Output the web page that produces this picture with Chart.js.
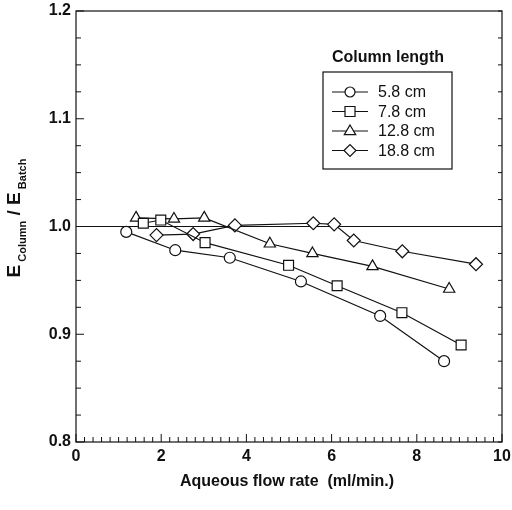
<!DOCTYPE html>
<html>
<head>
<meta charset="utf-8">
<script src="https://cdn.jsdelivr.net/npm/chart.js@4.4.1/dist/chart.umd.min.js"></script>
<style>
  html, body { margin: 0; padding: 0; background: #fff; }
  #wrap { width: 512px; height: 510px; }
</style>
</head>
<body>
<div id="wrap"><canvas id="effChart" width="512" height="510"></canvas></div>
<script>
/*
 * Column / batch extraction ratio against aqueous flow rate
 */
const seriesLabels = ["5.8 cm", "7.8 cm", "12.8 cm", "18.8 cm"];
const seriesStyles = ["circle", "rect", "triangle", "rectRot"];

const flow58 = [1.18, 2.33, 3.61, 5.28, 7.14, 8.64];
const ratio58 = [0.995, 0.978, 0.971, 0.949, 0.917, 0.875];

const flow78 = [1.58, 1.99, 3.03, 4.99, 6.13, 7.65, 9.04];
const ratio78 = [1.003, 1.006, 0.985, 0.964, 0.945, 0.920, 0.890];

const flow128 = [1.41, 2.30, 3.01, 4.55, 5.55, 6.96, 8.76];
const ratio128 = [1.008, 1.007, 1.008, 0.984, 0.975, 0.963, 0.942];

const flow188 = [1.89, 2.75, 3.73, 5.57, 6.06, 6.52, 7.66, 9.39];
const ratio188 = [0.992, 0.993, 1.001, 1.003, 1.002, 0.987, 0.977, 0.965];

// the horizontal line at ratio = 1
const refLineX = [0, 10];
const refLineY = [1.0, 1.0];

const xTicks = [0, 2, 4, 6, 8, 10];
const yTicks = [0.8, 0.9, 1.0, 1.1, 1.2];

const FONT = "'Liberation Sans', Arial, Helvetica, sans-serif";

function toPoints(xs, ys) {
    let pts = [];
    for (let i = 0; i < xs.length; i++) {
        pts.push({x: xs[i], y: ys[i]});
    }
    return pts;
}

function makeSeries(label, xs, ys, style, radius) {
    return {
        label: label,
        data: toPoints(xs, ys),
        borderColor: '#111',
        borderWidth: 1.2,
        pointStyle: style,
        pointRadius: radius,
        pointHoverRadius: radius,
        pointBackgroundColor: '#fff',
        pointBorderColor: '#111',
        pointBorderWidth: 1.2,
        tension: 0,
        fill: false,
        order: 1
    };
}

// draws one open marker, used for the legend
function drawMarker(ctx, style, x, y, r) {
    ctx.beginPath();
    if (style == 'circle') {
        ctx.arc(x, y, r, 0, Math.PI * 2);
    } else if (style == 'rect') {
        ctx.rect(x - r, y - r, 2 * r, 2 * r);
    } else if (style == 'triangle') {
        ctx.moveTo(x, y - r);
        ctx.lineTo(x + r * 0.95, y + r * 0.6);
        ctx.lineTo(x - r * 0.95, y + r * 0.6);
        ctx.closePath();
    } else {
        ctx.moveTo(x - r, y);
        ctx.lineTo(x, y - r);
        ctx.lineTo(x + r, y);
        ctx.lineTo(x, y + r);
        ctx.closePath();
    }
    ctx.fillStyle = '#fff';
    ctx.fill();
    ctx.stroke();
}

// Frame, inward ticks on the axes
const frameTicksPlugin = {
    id: 'frameTicks',
    beforeDatasetsDraw: (chart) => {
        const {ctx, chartArea} = chart;
        const xs = chart.scales.x;
        const ys = chart.scales.y;
        ctx.save();
        ctx.strokeStyle = '#111';
        ctx.lineWidth = 1.2;
        ctx.strokeRect(chartArea.left, chartArea.top, chartArea.right - chartArea.left, chartArea.bottom - chartArea.top);

        ctx.lineWidth = 1;
        ctx.beginPath();
        for (let i = 0; i <= 50; i++) {
            const px = xs.getPixelForValue(i * 0.2);
            const len = (i % 10 == 0) ? 8 : 5;
            ctx.moveTo(px, chartArea.bottom);
            ctx.lineTo(px, chartArea.bottom - len);
        }
        for (let i = 0; i <= 16; i++) {
            const py = ys.getPixelForValue(0.8 + i * 0.025);
            const len = (i % 4 == 0) ? 8 : 5;
            ctx.moveTo(chartArea.left, py);
            ctx.lineTo(chartArea.left + len, py);
            ctx.moveTo(chartArea.right, py);
            ctx.lineTo(chartArea.right - 4, py);
        }
        ctx.stroke();
        ctx.restore();
    },
    afterDraw: (chart) => {
        const {ctx, chartArea} = chart;
        ctx.save();
        ctx.fillStyle = '#111';
        ctx.strokeStyle = '#111';

        // x axis title
        ctx.font = "bold 16px " + FONT;
        ctx.textAlign = 'center';
        ctx.textBaseline = 'middle';
        ctx.fillText("Aqueous flow rate  (ml/min.)", 287, 482);

        // y axis title with subscripts, rotated
        ctx.save();
        ctx.translate(20, 218);
        ctx.rotate(-Math.PI / 2);
        const big = "bold 19px " + FONT;
        const small = "bold 11px " + FONT;
        const parts = [
            {t: "E", f: big, dy: 0},
            {t: " Column", f: small, dy: 6},
            {t: " / E", f: big, dy: 0},
            {t: " Batch", f: small, dy: 6}
        ];
        let total = 0;
        parts.forEach(p => { ctx.font = p.f; total += ctx.measureText(p.t).width; });
        let cx = -total / 2;
        ctx.textAlign = 'left';
        ctx.textBaseline = 'alphabetic';
        parts.forEach(p => {
            ctx.font = p.f;
            ctx.fillText(p.t, cx, p.dy);
            cx += ctx.measureText(p.t).width;
        });
        ctx.restore();

        // legend box
        ctx.font = "bold 16px " + FONT;
        ctx.textAlign = 'center';
        ctx.textBaseline = 'middle';
        ctx.fillText("Column length", 388, 58);
        ctx.lineWidth = 1.2;
        ctx.strokeRect(323, 72, 129, 97);

        ctx.font = "16px " + FONT;
        ctx.textAlign = 'left';
        const radii = [5, 5, 6, 6];
        for (let i = 0; i < seriesLabels.length; i++) {
            const ly = 92 + i * 19.5;
            ctx.lineWidth = 1.2;
            ctx.beginPath();
            ctx.moveTo(332, ly);
            ctx.lineTo(368, ly);
            ctx.stroke();
            drawMarker(ctx, seriesStyles[i], 350, ly, radii[i]);
            ctx.fillStyle = '#111';
            ctx.fillText(seriesLabels[i], 378, ly + 1);
        }
        ctx.restore();
    }
};

function setupEfficiencyChart() {
    const datasets = [
        makeSeries(seriesLabels[0], flow58, ratio58, seriesStyles[0], 5.5),
        makeSeries(seriesLabels[1], flow78, ratio78, seriesStyles[1], 7),
        makeSeries(seriesLabels[2], flow128, ratio128, seriesStyles[2], 6.5),
        makeSeries(seriesLabels[3], flow188, ratio188, seriesStyles[3], 6.5),
        {
            label: 'ref',
            data: toPoints(refLineX, refLineY),
            borderColor: '#111',
            borderWidth: 1.2,
            pointRadius: 0,
            tension: 0,
            fill: false,
            order: 10
        }
    ];

    const tickFont = {family: FONT, size: 16, weight: 'bold'};

    new Chart(document.getElementById('effChart'), {
        type: 'line',
        data: {datasets: datasets},
        options: {
            responsive: false,
            animation: false,
            layout: {padding: {top: 11, right: 10, left: 0, bottom: 0}},
            plugins: {
                legend: {display: false},
                tooltip: {enabled: false}
            },
            scales: {
                x: {
                    type: 'linear',
                    min: 0,
                    max: 10,
                    grid: {display: false, drawTicks: false, tickLength: 0},
                    border: {display: false},
                    afterBuildTicks: (scale) => {
                        scale.ticks = xTicks.map(v => ({value: v}));
                    },
                    afterFit: (scale) => {
                        scale.height = 68;
                        scale.paddingLeft = 0;
                        scale.paddingRight = 0;
                    },
                    ticks: {
                        color: '#111',
                        font: tickFont,
                        padding: 5,
                        maxRotation: 0,
                        callback: (v) => String(v)
                    }
                },
                y: {
                    type: 'linear',
                    min: 0.8,
                    max: 1.2,
                    grid: {display: false, drawTicks: false, tickLength: 0},
                    border: {display: false},
                    afterBuildTicks: (scale) => {
                        scale.ticks = yTicks.map(v => ({value: v}));
                    },
                    afterFit: (scale) => {
                        scale.width = 76;
                        scale.paddingTop = 0;
                        scale.paddingBottom = 0;
                    },
                    ticks: {
                        color: '#111',
                        font: tickFont,
                        padding: 5,
                        callback: (v) => Number(v).toFixed(1)
                    }
                }
            }
        },
        plugins: [frameTicksPlugin]
    });
}

setupEfficiencyChart();
</script>
</body>
</html>
